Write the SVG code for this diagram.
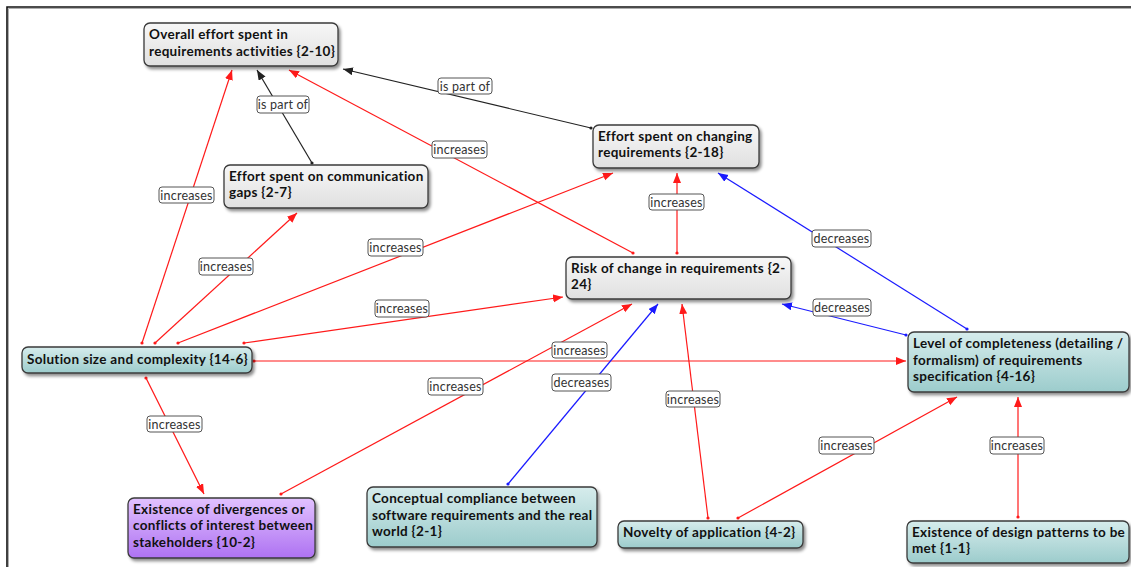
<svg xmlns="http://www.w3.org/2000/svg" width="1131" height="567" viewBox="0 0 1131 567">
  <style>
    .node rect { stroke: #3a3a3a; stroke-width: 1.3; filter: url(#shadow); }
    .node text { font-family: Lato, "Liberation Sans", sans-serif; font-weight: bold; font-size: 13.5px; letter-spacing: 0.3px; fill: #111; }
    .gray rect { fill: url(#gGray); }
    .teal rect { fill: url(#gTeal); }
    .purple rect { fill: url(#gPurple); }
    .edge { fill: none; stroke-width: 1.2; }
    .red { stroke: #ff1a1a; }
    .blue { stroke: #1a1aff; }
    .black { stroke: #222; }
    .lbl rect { fill: #fff; stroke: #555; stroke-width: 1; }
    .lbl text { font-family: Lato, "Liberation Sans", sans-serif; font-size: 12.5px; letter-spacing: 0.2px; fill: #333; text-anchor: middle; }
  </style>
  <defs>
    <linearGradient id="gGray" x1="0" y1="0" x2="0" y2="1">
      <stop offset="0" stop-color="#f7f7f7"/>
      <stop offset="1" stop-color="#e0e0e0"/>
    </linearGradient>
    <linearGradient id="gTeal" x1="0" y1="0" x2="0" y2="1">
      <stop offset="0" stop-color="#d6ecec"/>
      <stop offset="1" stop-color="#9ccccc"/>
    </linearGradient>
    <linearGradient id="gPurple" x1="0" y1="0" x2="0" y2="1">
      <stop offset="0" stop-color="#e2c2ff"/>
      <stop offset="1" stop-color="#ae72f2"/>
    </linearGradient>
    <filter id="shadow" x="-10%" y="-20%" width="125%" height="150%">
      <feDropShadow dx="2" dy="2.5" stdDeviation="1.5" flood-color="#000" flood-opacity="0.45"/>
    </filter>
    <marker id="arRed" markerUnits="userSpaceOnUse" markerWidth="11" markerHeight="9" refX="10" refY="4" orient="auto">
      <path d="M0,0 L10,4 L0,8 z" fill="#ff1a1a"/>
    </marker>
    <marker id="arBlue" markerUnits="userSpaceOnUse" markerWidth="11" markerHeight="9" refX="10" refY="4" orient="auto">
      <path d="M0,0 L10,4 L0,8 z" fill="#1a1aff"/>
    </marker>
    <marker id="arBlack" markerUnits="userSpaceOnUse" markerWidth="11" markerHeight="9" refX="10" refY="4" orient="auto">
      <path d="M0,0 L10,4 L0,8 z" fill="#222"/>
    </marker>
    <marker id="dotRed" markerUnits="userSpaceOnUse" markerWidth="4" markerHeight="4" refX="2" refY="2">
      <circle cx="2" cy="2" r="1.6" fill="#ff1a1a"/>
    </marker>
    <marker id="dotBlue" markerUnits="userSpaceOnUse" markerWidth="4" markerHeight="4" refX="2" refY="2">
      <circle cx="2" cy="2" r="1.6" fill="#1a1aff"/>
    </marker>
    <marker id="dotBlack" markerUnits="userSpaceOnUse" markerWidth="4" markerHeight="4" refX="2" refY="2">
      <circle cx="2" cy="2" r="1.6" fill="#222"/>
    </marker>
  </defs>

  <rect width="1131" height="567" fill="#fff"/>
  <!-- window frame -->
  <path d="M7,567 V7 H1131" fill="none" stroke="#111" stroke-width="1.6"/>
  <path d="M8.5,567 V8.5 H1131" fill="none" stroke="#999" stroke-width="0.8"/>

  <!-- connectors -->
  <g id="connectors">
    <line class="edge black" x1="312" y1="163" x2="257" y2="70" marker-start="url(#dotBlack)" marker-end="url(#arBlack)"/>
    <line class="edge black" x1="591" y1="128" x2="343" y2="69" marker-start="url(#dotBlack)" marker-end="url(#arBlack)"/>
    <line class="edge red" x1="633" y1="253" x2="289" y2="70" marker-start="url(#dotRed)" marker-end="url(#arRed)"/>
    <line class="edge red" x1="142" y1="343" x2="232" y2="70" marker-start="url(#dotRed)" marker-end="url(#arRed)"/>
    <line class="edge red" x1="155" y1="343" x2="297" y2="213" marker-start="url(#dotRed)" marker-end="url(#arRed)"/>
    <line class="edge red" x1="178" y1="343" x2="613" y2="173" marker-start="url(#dotRed)" marker-end="url(#arRed)"/>
    <line class="edge red" x1="244" y1="343" x2="563" y2="297" marker-start="url(#dotRed)" marker-end="url(#arRed)"/>
    <line class="edge red" x1="677" y1="253" x2="677" y2="173" marker-start="url(#dotRed)" marker-end="url(#arRed)"/>
    <line class="edge blue" x1="967" y1="329" x2="718" y2="173" marker-start="url(#dotBlue)" marker-end="url(#arBlue)"/>
    <line class="edge blue" x1="906" y1="335" x2="782" y2="304" marker-start="url(#dotBlue)" marker-end="url(#arBlue)"/>
    <line class="edge red" x1="254" y1="361" x2="906" y2="361" marker-start="url(#dotRed)" marker-end="url(#arRed)"/>
    <line class="edge red" x1="281" y1="494" x2="632" y2="304" marker-start="url(#dotRed)" marker-end="url(#arRed)"/>
    <line class="edge blue" x1="508" y1="484" x2="658" y2="304" marker-start="url(#dotBlue)" marker-end="url(#arBlue)"/>
    <line class="edge red" x1="708" y1="518" x2="682" y2="304" marker-start="url(#dotRed)" marker-end="url(#arRed)"/>
    <line class="edge red" x1="738" y1="518" x2="957" y2="397" marker-start="url(#dotRed)" marker-end="url(#arRed)"/>
    <line class="edge red" x1="1018" y1="517" x2="1018" y2="397" marker-start="url(#dotRed)" marker-end="url(#arRed)"/>
    <line class="edge red" x1="146" y1="378" x2="204" y2="494" marker-start="url(#dotRed)" marker-end="url(#arRed)"/>

    <!-- link labels -->
    <g class="lbl"><rect x="257" y="96" width="52" height="17" rx="3"/><text x="283" y="109">is part of</text></g>
    <g class="lbl"><rect x="438" y="78" width="54" height="16" rx="3"/><text x="465" y="90.5">is part of</text></g>
    <g class="lbl"><rect x="432" y="141" width="55" height="17" rx="3"/><text x="459.5" y="154">increases</text></g>
    <g class="lbl"><rect x="159" y="187" width="55" height="16" rx="3"/><text x="186.5" y="199.5">increases</text></g>
    <g class="lbl"><rect x="199" y="258" width="54" height="17" rx="3"/><text x="226" y="271">increases</text></g>
    <g class="lbl"><rect x="368" y="239" width="55" height="17" rx="3"/><text x="395.5" y="252">increases</text></g>
    <g class="lbl"><rect x="375" y="300" width="54" height="17" rx="3"/><text x="402" y="313">increases</text></g>
    <g class="lbl"><rect x="649" y="194" width="55" height="16" rx="3"/><text x="676.5" y="206.5">increases</text></g>
    <g class="lbl"><rect x="812" y="230" width="59" height="17" rx="3"/><text x="841.5" y="243">decreases</text></g>
    <g class="lbl"><rect x="813" y="299" width="58" height="17" rx="3"/><text x="842" y="312">decreases</text></g>
    <g class="lbl"><rect x="552" y="342" width="55" height="16" rx="3"/><text x="579.5" y="354.5">increases</text></g>
    <g class="lbl"><rect x="428" y="378" width="55" height="17" rx="3"/><text x="455.5" y="391">increases</text></g>
    <g class="lbl"><rect x="552" y="374" width="59" height="17" rx="3"/><text x="581.5" y="387">decreases</text></g>
    <g class="lbl"><rect x="666" y="391" width="54" height="16" rx="3"/><text x="693" y="403.5">increases</text></g>
    <g class="lbl"><rect x="819" y="437" width="55" height="17" rx="3"/><text x="846.5" y="450">increases</text></g>
    <g class="lbl"><rect x="990" y="437" width="54" height="17" rx="3"/><text x="1017" y="450">increases</text></g>
    <g class="lbl"><rect x="147" y="416" width="55" height="16" rx="3"/><text x="174.5" y="428.5">increases</text></g>
  </g>

  <!-- concepts -->
  <g id="overall-effort" class="node gray">
    <rect x="144" y="23" width="194" height="43" rx="6"/>
    <text><tspan x="149" y="39">Overall effort spent in</tspan><tspan x="149" y="56">requirements activities {2-10}</tspan></text>
  </g>
  <g id="comm-gaps" class="node gray">
    <rect x="224" y="165" width="204" height="43" rx="6"/>
    <text><tspan x="229" y="181">Effort spent on communication</tspan><tspan x="229" y="197">gaps {2-7}</tspan></text>
  </g>
  <g id="changing-req" class="node gray">
    <rect x="593" y="125" width="166" height="43" rx="6"/>
    <text><tspan x="598" y="141">Effort spent on changing</tspan><tspan x="598" y="157">requirements {2-18}</tspan></text>
  </g>
  <g id="risk-change" class="node gray">
    <rect x="566" y="257" width="225" height="42" rx="6"/>
    <text><tspan x="571" y="273">Risk of change in requirements {2-</tspan><tspan x="571" y="289">24}</tspan></text>
  </g>
  <g id="solution-size" class="node teal">
    <rect x="22" y="347" width="230" height="26" rx="6"/>
    <text><tspan x="27" y="364">Solution size and complexity {14-6}</tspan></text>
  </g>
  <g id="divergences" class="node purple">
    <rect x="128" y="498" width="187" height="60" rx="6"/>
    <text><tspan x="133" y="514">Existence of divergences or</tspan><tspan x="133" y="530">conflicts of interest between</tspan><tspan x="133" y="547">stakeholders {10-2}</tspan></text>
  </g>
  <g id="conceptual-compliance" class="node teal">
    <rect x="367" y="487" width="230" height="60" rx="6"/>
    <text><tspan x="372" y="503">Conceptual compliance between</tspan><tspan x="372" y="520">software requirements and the real</tspan><tspan x="372" y="536">world {2-1}</tspan></text>
  </g>
  <g id="novelty" class="node teal">
    <rect x="618" y="521" width="185" height="27" rx="6"/>
    <text><tspan x="623" y="537">Novelty of application {4-2}</tspan></text>
  </g>
  <g id="completeness" class="node teal">
    <rect x="908" y="332" width="221" height="60" rx="6"/>
    <text><tspan x="913" y="348">Level of completeness (detailing /</tspan><tspan x="913" y="365">formalism) of requirements</tspan><tspan x="913" y="381">specification {4-16}</tspan></text>
  </g>
  <g id="design-patterns" class="node teal">
    <rect x="907" y="521" width="222" height="42" rx="6"/>
    <text><tspan x="912" y="537">Existence of design patterns to be</tspan><tspan x="912" y="553">met {1-1}</tspan></text>
  </g>
</svg>
